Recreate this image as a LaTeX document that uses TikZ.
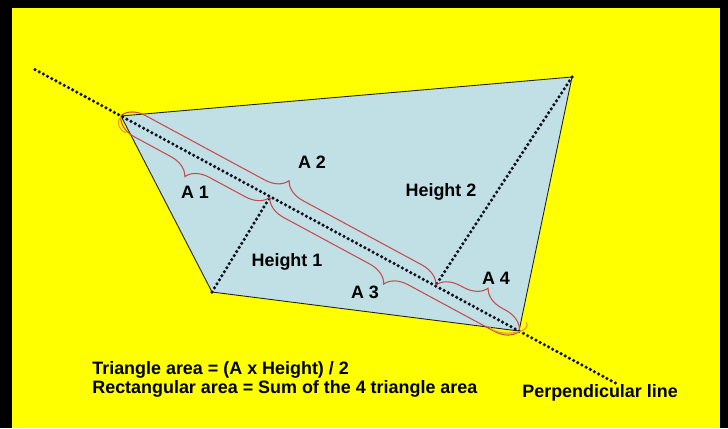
\documentclass[tikz,border=0pt]{standalone}
\usepackage{fontspec}
\setmainfont{Liberation Sans}
\usepackage{tikz}
\usetikzlibrary{calc,decorations.pathreplacing}
\usepackage{xcolor}
\definecolor{board}{HTML}{FFFF00}
\definecolor{plot}{HTML}{C0E0E6}
\definecolor{bracered}{HTML}{C84A4A}
\definecolor{ring}{HTML}{EE9A22}
\definecolor{ink}{HTML}{10101E}

\begin{document}
\begin{tikzpicture}[
    dots/.style={ink, line width=2pt, line cap=round, dash pattern=on 0pt off 2.7pt},
    curly/.style={bracered, line width=0.6pt, decorate, decoration={brace, amplitude=0.44cm, raise=0.02cm}},
    lbl/.style={font=\bfseries\fontsize{10.2}{10.8}\selectfont, inner sep=0pt}]
    \fill[black] (0,0) rectangle (14.56,8.56);
    \fill[board] (0.24,0) rectangle (14.40,8.40);
    \coordinate (P1) at (2.42,6.24);
    \coordinate (P2) at (11.44,7.02);
    \coordinate (P3) at (10.38,1.94);
    \coordinate (P4) at (4.24,2.72);
    \coordinate (S) at ($(P1)!-0.216!(P3)$);
    \coordinate (E) at ($(P1)!1.242!(P3)$);
    \coordinate (H1) at ($(P1)!0.375!(P3)$);
    \coordinate (H2) at ($(P1)!0.79!(P3)$);
    \filldraw[fill=plot, draw=ink!85!olive, line width=0.5pt] (P1) -- (P2) -- (P3) -- (P4) -- cycle;
    \draw[dots] (S) -- (E);
    \draw[dots] (P4) -- (H1);
    \draw[dots] (P2) -- (H2);
    \draw[curly] (H1) -- (P1);
    \draw[curly] (P1) -- (H2);
    \draw[curly] (P3) -- (H1);
    \draw[curly] (H2) -- (P3);
    \draw[ring, line width=0.6pt] (2.42,6.22) .. controls (2.30,6.10) and (2.40,5.95) .. (2.52,5.90);
    \draw[ring, line width=0.6pt] (9.79,2.03) arc[start angle=190, end angle=380, x radius=0.38cm, y radius=0.16cm];
    \node[lbl] (a1) at (3.90,4.72) {A 1};
    \node[lbl] (a2) at (6.24,5.32) {A 2};
    \node[lbl] (a3) at (7.30,2.72) {A 3};
    \node[lbl] (a4) at (9.92,3.00) {A 4};
    \node[lbl] (h1) at (5.74,3.32) {Height 1};
    \node[lbl] (h2) at (8.82,4.72) {Height 2};
    \node[lbl, anchor=west, align=left] (rule) at (1.84,0.97) {Triangle area = (A x Height) / 2\\Rectangular area = Sum of the 4 triangle area};
    \node[lbl, anchor=west] (perp) at (10.44,0.70) {Perpendicular line};
\end{tikzpicture}
\end{document}
